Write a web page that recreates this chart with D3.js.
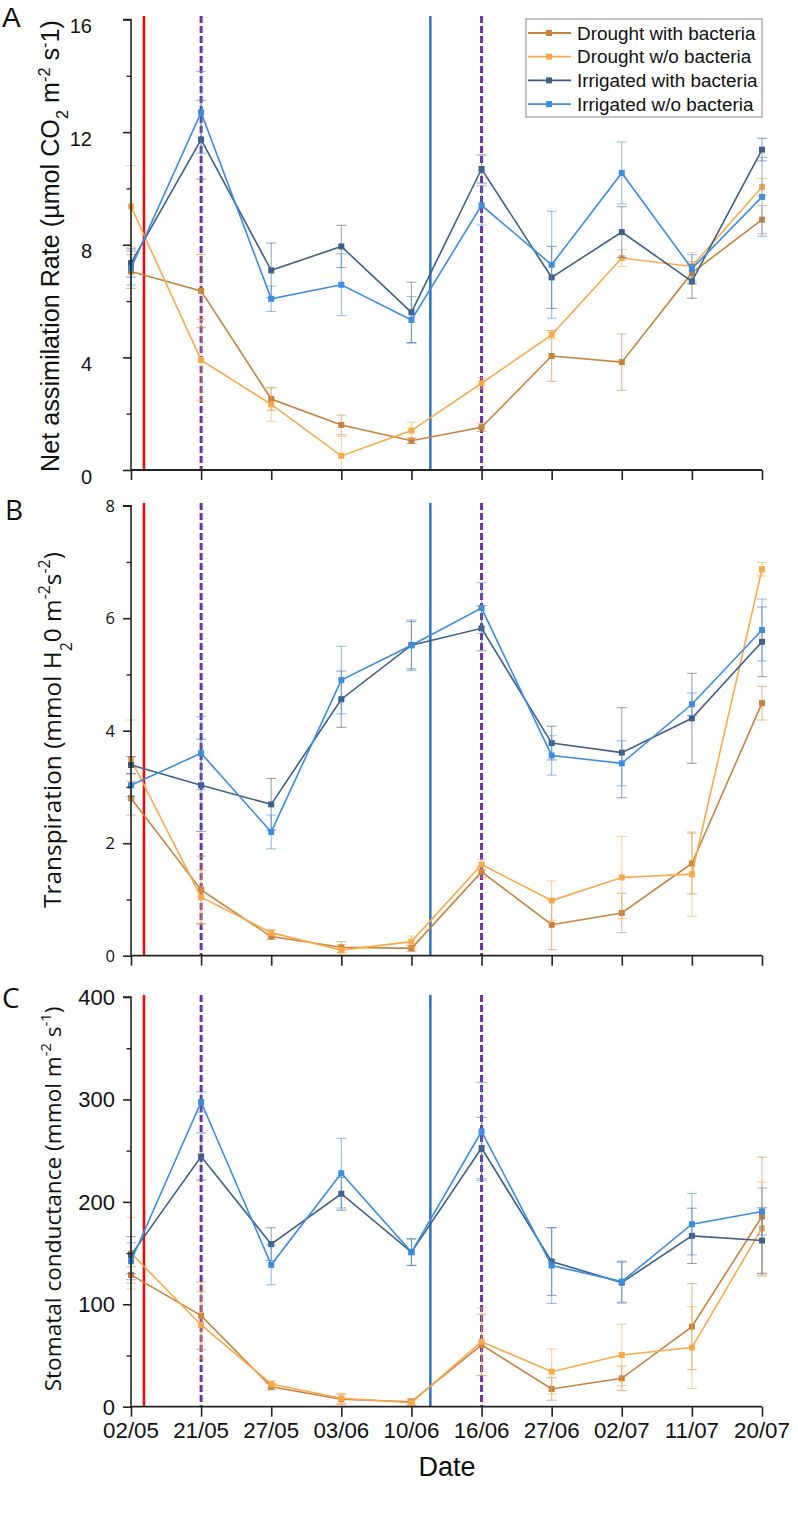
<!DOCTYPE html>
<html><head><meta charset="utf-8">
<script src="https://cdn.jsdelivr.net/npm/d3@7"></script>
<style>body{margin:0;background:#fff}svg{display:block}</style>
</head><body>
<svg id="c" width="798" height="1536"></svg>
<script>
const dates = ["02/05","21/05","27/05","03/06","10/06","16/06","27/06","02/07","11/07","20/07"];
const seriesNames = ["Drought with bacteria","Drought w/o bacteria","Irrigated with bacteria","Irrigated w/o bacteria"];
const seriesColors = ["#c8823e","#f8aa4b","#3e5f86","#3b8de0"];

// Panel A: Net assimilation rate
const aDroughtBact = [7.05,6.36,2.52,1.6,1.04,1.52,4.05,3.83,7.0,8.89];
const aDroughtNo   = [9.36,3.9,2.33,0.5,1.4,3.08,4.8,7.53,7.23,10.05];
const aIrrBact     = [7.35,11.73,7.09,7.94,5.6,10.69,6.84,8.45,6.7,11.38];
const aIrrNo       = [7.17,12.7,6.08,6.58,5.33,9.4,7.29,10.55,7.15,9.7];
const aDroughtBactErr = [0.6,1.3,0.4,0.35,0.1,0.15,0.9,1.0,0.4,0.5];
const aDroughtNoErr   = [1.45,1.45,0.6,0.7,0.3,0.2,0.15,0.3,0.5,0.3];
const aIrrBactErr     = [0.5,1.4,0.97,0.75,1.07,0.5,1.1,0.9,0.6,0.4];
const aIrrNoErr       = [0.6,1.45,0.45,1.1,0.83,0.7,1.9,1.1,0.5,1.4];

// Panel B: Transpiration
const bDroughtBact = [2.8,1.17,0.34,0.15,0.13,1.49,0.55,0.76,1.64,4.49];
const bDroughtNo   = [3.49,1.04,0.41,0.1,0.25,1.62,0.98,1.39,1.45,6.87];
const bIrrBact     = [3.39,3.03,2.69,4.56,5.52,5.82,3.78,3.61,4.22,5.58];
const bIrrNo       = [3.03,3.6,2.2,4.9,5.52,6.18,3.56,3.42,4.47,5.79];
const bDroughtBactErr = [0.3,0.6,0.05,0.1,0.05,0.1,0.44,0.35,0.54,0.3];
const bDroughtNoErr   = [0.7,0.48,0.05,0.1,0.1,0.1,0.35,0.73,0.75,0.12];
const bIrrBactErr     = [0.15,0.82,0.46,0.5,0.42,0.4,0.3,0.8,0.8,0.62];
const bIrrNoErr       = [0.2,0.65,0.3,0.6,0.45,0.45,0.35,0.4,0.2,0.55];

// Panel C: Stomatal conductance
const cDroughtBact = [128.7,88.9,19.5,7.2,4.9,60.3,17.3,27.7,78.2,185.7];
const cDroughtNo   = [150,79.8,22.2,8.2,3.9,63.5,34.2,50.5,57.7,174.3];
const cIrrBact     = [148,244.3,158.7,207.9,150.9,252.5,141.7,121.2,166.8,162.2];
const cIrrNo       = [142,297.5,138.5,228,150.9,268.7,137.8,122.2,178.2,190.6];
const cDroughtBactErr = [8,33,3,5,3,30,11,12,42,58];
const cDroughtNoErr   = [35,33,3,5,3,33,22,30,40,45];
const cIrrBactErr     = [18,23,16,16,13,30,33,20,27,32];
const cIrrNoErr       = [18,10,19.5,34,13,48,37,20,30,23];

const yTicksA = [0,4,8,12,16], yMinorA = [2,6,10,14];
const yTicksB = [0,2,4,6,8], yMinorB = [1,3,5,7];
const yTicksC = [0,100,200,300,400], yMinorC = [50,150,250,350];

// event lines: positions on the date index axis
const redLineAt = 0.185;
const blueLineAt = 4.27;
const purpleLinesAt = [1,5];

const svg = d3.select("#c");
const x = d3.scaleLinear().domain([0, dates.length-1]).range([131, 762]);

const panels = [
  {letter:"A", letterFont:"Liberation Sans", letterX:2, letterY:27, top:19.5, bottom:470, lineTop:16, max:16,
   ticks:yTicksA, minor:yMinorA, tickFont:"Liberation Sans", tickSize:20, tickEnd:92, tickDy:6.5,
   vals:[aDroughtBact,aDroughtNo,aIrrBact,aIrrNo], errs:[aDroughtBactErr,aDroughtNoErr,aIrrBactErr,aIrrNoErr],
   title:[["Net assimilation Rate (µmol CO",""],["2","sub"],[" m",""],["-2","sup"],[" s",""],["-","sup"],["1)",""]],
   titleFont:"Liberation Sans", titleLen:452, titleX:59, titleCY:246},
  {letter:"B", letterFont:"Open Sans", letterX:5, letterY:520, top:505.7, bottom:955.7, lineTop:503, max:8,
   ticks:yTicksB, minor:yMinorB, tickFont:"Open Sans", tickSize:16.5, tickEnd:115, tickDy:0,
   vals:[bDroughtBact,bDroughtNo,bIrrBact,bIrrNo], errs:[bDroughtBactErr,bDroughtNoErr,bIrrBactErr,bIrrNoErr],
   title:[["Transpiration (mmol H",""],["2","sub"],["0 m",""],["-2","sup"],["s",""],["-2","sup"],[")",""]],
   titleFont:"Open Sans", titleLen:356, titleX:61, titleCY:730},
  {letter:"C", letterFont:"Open Sans", letterX:2, letterY:1008, top:997, bottom:1406.7, lineTop:995, max:400,
   ticks:yTicksC, minor:yMinorC, tickFont:"Liberation Sans", tickSize:22, tickEnd:115, tickDy:0,
   vals:[cDroughtBact,cDroughtNo,cIrrBact,cIrrNo], errs:[cDroughtBactErr,cDroughtNoErr,cIrrBactErr,cIrrNoErr],
   title:[["Stomatal conductance (mmol m",""],["-2","sup"],[" s",""],["-1","sup"],[")",""]],
   titleFont:"Open Sans", titleLen:385, titleX:61, titleCY:1199}
];

panels.forEach((p, pi) => {
  const y = d3.scaleLinear().domain([0, p.max]).range([p.bottom, p.top]);
  const g = svg.append("g");

  // event lines
  g.append("line").attr("x1", x(redLineAt)).attr("x2", x(redLineAt))
    .attr("y1", p.lineTop).attr("y2", p.bottom).attr("stroke", "#ff0000").attr("stroke-width", 2.5);
  g.append("line").attr("x1", x(blueLineAt)).attr("x2", x(blueLineAt))
    .attr("y1", p.lineTop).attr("y2", p.bottom).attr("stroke", "#2c72c0").attr("stroke-width", 2.5);
  purpleLinesAt.forEach(v => {
    g.append("line").attr("x1", x(v)).attr("x2", x(v))
      .attr("y1", p.lineTop).attr("y2", p.bottom).attr("stroke", "#7030a0")
      .attr("stroke-width", 3).attr("stroke-dasharray", "7,3");
  });

  // series
  p.vals.forEach((vals, si) => {
    const col = seriesColors[si];
    const errs = p.errs[si];
    const eg = g.append("g").attr("stroke", col).attr("stroke-opacity", 0.55).attr("stroke-width", 1.1);
    vals.forEach((v, i) => {
      const e = errs[i];
      const lo = Math.max(0, v - e), hi = v + e;
      eg.append("line").attr("x1", x(i)).attr("x2", x(i)).attr("y1", y(lo)).attr("y2", y(hi));
      [lo, hi].forEach(w => eg.append("line").attr("x1", x(i)-5).attr("x2", x(i)+5).attr("y1", y(w)).attr("y2", y(w)));
    });
    g.append("path").datum(vals)
      .attr("d", d3.line().x((d,i)=>x(i)).y(d=>y(d)))
      .attr("fill","none").attr("stroke", col).attr("stroke-width", 1.6);
    g.selectAll(null).data(vals).enter().append("rect")
      .attr("x",(d,i)=>x(i)-3).attr("y",d=>y(d)-3).attr("width",6).attr("height",6)
      .attr("fill", col);
  });

  // y axis (ticks via d3 axis, labels placed from the same scale)
  const ya = g.append("g").attr("transform", `translate(${x(0)},0)`)
    .call(d3.axisLeft(y).tickValues(p.ticks).tickSize(8).tickFormat(""));
  ya.select(".domain").attr("stroke","#222").attr("stroke-width",1.6).attr("d", `M-8,${p.top}H0V${p.bottom}`);
  ya.selectAll(".tick line").attr("stroke","#222").attr("stroke-width",1.6);
  const ym = g.append("g").attr("transform", `translate(${x(0)},0)`)
    .call(d3.axisLeft(y).tickValues(p.minor).tickSize(4.5).tickFormat(""));
  ym.select(".domain").remove();
  ym.selectAll(".tick line").attr("stroke","#222").attr("stroke-width",1.4);
  g.selectAll(null).data(p.ticks).enter().append("text")
    .attr("x", p.tickEnd).attr("y", d => y(d) + p.tickDy).attr("dy","0.36em")
    .attr("text-anchor","end").text(d3.format("d"))
    .style("font-family", p.tickFont).style("font-size", p.tickSize+"px").attr("fill","#111");

  // x axis
  const xa = g.append("g").attr("transform", `translate(0,${p.bottom})`)
    .call(d3.axisBottom(x).tickValues(d3.range(dates.length)).tickSize(10).tickFormat(""));
  xa.select(".domain").attr("stroke","#222").attr("stroke-width",1.8).attr("d", `M${x(0)},0H${x(dates.length-1)}`);
  xa.selectAll(".tick line").attr("stroke","#222").attr("stroke-width",1.6);
  if (pi === 2) {
    g.selectAll(null).data(dates).enter().append("text")
      .attr("x", (d,i) => x(i)).attr("y", p.bottom + 31).attr("text-anchor","middle").text(d => d)
      .style("font-family","Liberation Sans").style("font-size","22.3px").attr("fill","#111");
  }

  // panel letter
  svg.append("text").attr("x", p.letterX).attr("y", p.letterY).text(p.letter)
    .style("font-family", p.letterFont).style("font-size", "28px").attr("fill","#111");

  // y title
  const t = svg.append("text")
    .attr("transform", `translate(${p.titleX},${p.titleCY}) rotate(-90)`)
    .attr("text-anchor","middle")
    .style("font-family", p.titleFont).style("font-size","23px").attr("fill","#111");
  p.title.forEach(([s, k]) => {
    const ts = t.append("tspan").text(s);
    if (k === "sup") ts.attr("baseline-shift","super").style("font-size","15px");
    if (k === "sub") ts.attr("baseline-shift","sub").style("font-size","15px");
  });
  const len = t.node().getComputedTextLength();
  const fs = 23 * p.titleLen / len;
  t.style("font-size", fs + "px");
  t.selectAll("tspan").filter(function(){return this.style.fontSize;}).style("font-size", (fs*0.65)+"px");
});

// x title
svg.append("text").attr("x", 447).attr("y", 1476).attr("text-anchor","middle")
  .text("Date").style("font-family","Liberation Sans").style("font-size","27px").attr("fill","#111");

// legend
const lg = svg.append("g");
lg.append("rect").attr("x",526).attr("y",19).attr("width",236).attr("height",98)
  .attr("fill","#fff").attr("stroke","#888").attr("stroke-width",1);
seriesNames.forEach((n, i) => {
  const yy = 33 + i*23.7;
  lg.append("line").attr("x1",528).attr("x2",571).attr("y1",yy).attr("y2",yy)
    .attr("stroke",seriesColors[i]).attr("stroke-width",1.8);
  lg.append("rect").attr("x",546).attr("y",yy-3).attr("width",6).attr("height",6).attr("fill",seriesColors[i]);
  lg.append("text").attr("x",577).attr("y",yy).attr("dy","0.35em").text(n)
    .style("font-family","Liberation Sans").style("font-size","18.9px").attr("fill","#111");
});
</script>
</body></html>
